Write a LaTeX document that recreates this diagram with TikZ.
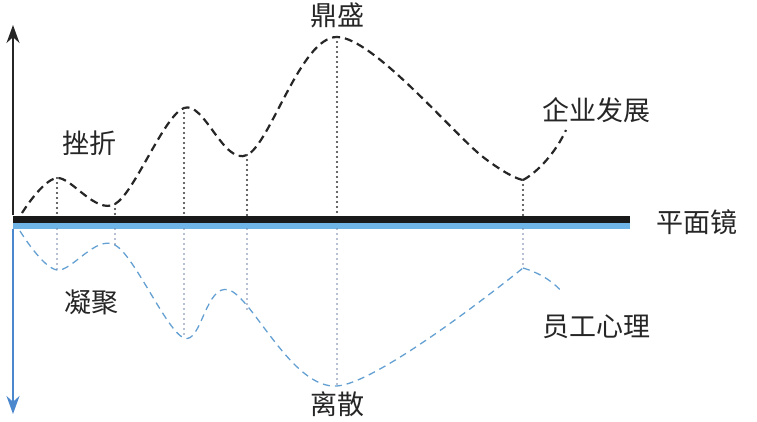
\documentclass[tikz,border=0pt]{standalone}
\usepackage{fontspec}
\newfontfamily\cjk{Noto Sans CJK SC}
\usetikzlibrary{arrows.meta}
\definecolor{mirrorblue}{RGB}{110,180,230}
\definecolor{axisblue}{RGB}{75,135,205}
\definecolor{curveblue}{RGB}{100,160,210}
\definecolor{dotblue}{RGB}{110,130,165}
\tikzset{
  lbl/.style={font=\cjk\fontsize{27}{30}\selectfont, text=black!85, inner sep=0pt},
  upcurve/.style={black!85, line width=2.2pt, dash pattern=on 8pt off 5pt},
  lowcurve/.style={curveblue, line width=1.3pt, dash pattern=on 7pt off 5pt},
  updot/.style={black!80, line width=2.2pt, line cap=round, dash pattern=on 0pt off 5pt},
  lowdot/.style={dotblue, line width=1.6pt, line cap=round, dash pattern=on 0pt off 5pt},
  axarrow/.style={line width=2pt, -{Stealth[length=18pt,width=13pt]}},
}
\begin{document}
\begin{tikzpicture}[x=1pt,y=-1pt]
\useasboundingbox (0,0) rectangle (757,422);
% mirror
\coordinate (ml) at (13,219);
\coordinate (mr) at (630,219);
\coordinate (bl) at (13,226);
\coordinate (br) at (630,226);
\draw[mirrorblue, line width=6pt] (bl) -- (br);
\draw[black!90, line width=7pt] (ml) -- (mr);
% axes
\coordinate (atop) at (13,25);
\coordinate (abot) at (13,414);
\draw[black!85, axarrow] (13,215) -- (atop);
\draw[axisblue, axarrow] (13,229) -- (abot);
% upper curve points
\coordinate (u0) at (22,213);
\coordinate (u1) at (57,178);
\coordinate (u2) at (115,204);
\coordinate (u3) at (184,108);
\coordinate (u4) at (247,155);
\coordinate (u5) at (337,37);
\coordinate (u5b) at (483,157);
\coordinate (u6) at (523,180);
\coordinate (u7) at (566,130);
\draw[upcurve] plot[smooth, tension=0.55] coordinates {(u0) (u1) (u2) (u3) (u4) (u5) (u5b) (u6)};
\draw[upcurve] (u6) .. controls (538,172) and (556,152) .. (u7);
% lower curve points
\coordinate (l0) at (20,231);
\coordinate (l1) at (57,270);
\coordinate (l2) at (115,245);
\coordinate (l3) at (184,338);
\coordinate (l4) at (229,290);
\coordinate (l5) at (337,386);
\coordinate (l6) at (523,268);
\coordinate (l7) at (563,293);
\draw[lowcurve] plot[smooth, tension=0.55] coordinates {(l0) (l1) (l2) (l3) (l4) (l5) (l6)};
\draw[lowcurve] (l6) .. controls (537,272) and (552,280) .. (l7);
% dotted verticals
\foreach \x/\yu in {57/178,115/204,184/108,247/155,337/37,523/180}{
  \draw[updot] (\x,\yu) -- (\x,216);
}
\foreach \x/\yl in {57/270,115/245,184/338,247/310,337/386,523/268}{
  \draw[lowdot] (\x,229) -- (\x,\yl);
}
% labels
\node[lbl] (t1) at (89,143) {挫折};
\node[lbl] (t2) at (337,15) {鼎盛};
\node[lbl] (t3) at (596,110) {企业发展};
\node[lbl] (t4) at (697,222) {平面镜};
\node[lbl] (t5) at (91,302) {凝聚};
\node[lbl] (t6) at (596,327) {员工心理};
\node[lbl] (t7) at (337,404) {离散};
\end{tikzpicture}
\end{document}
